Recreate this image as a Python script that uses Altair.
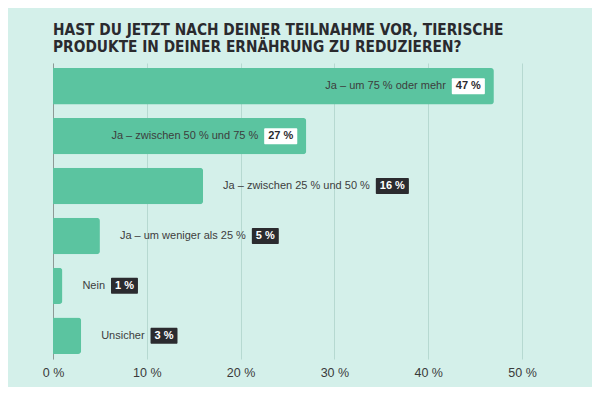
import altair as alt
import pandas as pd

# ---- data ----
categories = [
    "Ja – um 75 % oder mehr",
    "Ja – zwischen 50 % und 75 %",
    "Ja – zwischen 25 % und 50 %",
    "Ja – um weniger als 25 %",
    "Nein",
    "Unsicher",
]
values = [47, 27, 16, 5, 1, 3]
tick_values = [0, 10, 20, 30, 40, 50]
title_lines = [
    "HAST DU JETZT NACH DEINER TEILNAHME VOR, TIERISCHE",
    "PRODUKTE IN DEINER ERNÄHRUNG ZU REDUZIEREN?",
]

# ---- style ----
BG = "#d4f0ea"
BAR = "#5bc4a0"
GRID = "#b6d9d1"
DARK = "#2b2b2f"
LABEL_COLOR = "#3d3d3d"
W, H = 469, 296
XMAX = 50
K = W / XMAX  # pixels per percentage point
LABEL_FS = 11
BADGE_FS = 11
INSIDE_MIN = 20

# approximate Arial / Liberation Sans advance widths (per 1000 em)
REG = {" ": 278, "–": 556, "%": 889, "J": 500, "N": 722, "U": 722,
       "a": 556, "b": 556, "c": 500, "d": 556, "e": 556, "f": 278, "g": 556,
       "h": 556, "i": 222, "j": 222, "k": 500, "l": 222, "m": 833, "n": 556,
       "o": 556, "p": 556, "r": 333, "s": 500, "t": 278, "u": 556, "v": 500,
       "w": 722, "x": 500, "y": 500, "z": 500}
BOLD = {" ": 278, "%": 889}


def text_width(s, fs, table):
    return sum(table.get(c, 556) for c in s) * fs / 1000.0


rows = []
for cat, v in zip(categories, values):
    badge = f"{v} %"
    bw = text_width(badge, BADGE_FS, BOLD) + 8
    tw = text_width(cat, LABEL_FS, REG)
    if v >= INSIDE_MIN:
        be = v - 9 / K
        bs = be - bw / K
        lx = bs - (6 + tw) / K
        fill, tcol = "#ffffff", DARK
    else:
        lx = v + 20 / K
        bs = v + (20 + tw + 6) / K
        be = bs + bw / K
        fill, tcol = DARK, "#ffffff"
    rows.append(dict(category=cat, value=v, badge=badge, label_x=lx,
                     badge_start=bs, badge_end=be, badge_mid=(bs + be) / 2,
                     badge_fill=fill, badge_text=tcol))
df = pd.DataFrame(rows)

yenc = alt.Y(
    "category:N", sort=categories, title=None,
    scale=alt.Scale(paddingInner=0.27, paddingOuter=0.1),
    axis=alt.Axis(labels=False, ticks=False, domain=True, domainColor="#8e9a96",
                  grid=False, title=None),
)
xscale = alt.Scale(domain=[0, XMAX], nice=False)

base = alt.Chart(df).encode(y=yenc)

bars = base.mark_bar(color=BAR, cornerRadiusEnd=3).encode(
    x=alt.X("value:Q", scale=xscale, title=None,
            axis=alt.Axis(values=tick_values, labelExpr="datum.value + ' %'",
                          domain=False, ticks=False, grid=True, gridColor=GRID,
                          labelFontSize=12.5, labelColor="#3a3a3a",
                          labelFont="Liberation Sans", labelPadding=7,
                          labelFlush=False, title=None))
)

labels = base.mark_text(align="left", baseline="middle", fontSize=LABEL_FS,
                        font="Liberation Sans", color=LABEL_COLOR).encode(
    x=alt.X("label_x:Q", scale=xscale, title=None),
    text="category:N",
)

badges = base.mark_bar(cornerRadius=1).encode(
    x=alt.X("badge_start:Q", scale=xscale, title=None),
    x2="badge_end:Q",
    size=alt.value(16),
    color=alt.Color("badge_fill:N", scale=None),
)

badge_text = base.mark_text(align="center", baseline="middle", fontSize=BADGE_FS,
                            font="Liberation Sans", fontWeight="bold").encode(
    x=alt.X("badge_mid:Q", scale=xscale, title=None),
    text="badge:N",
    color=alt.Color("badge_text:N", scale=None),
)

chart = alt.layer(bars, labels, badges, badge_text).properties(
    width=W, height=H,
    background=BG,
    padding={"left": 45, "top": 55, "right": 70, "bottom": 28},
    autosize=alt.AutoSizeParams(type="none"),
    title=alt.TitleParams(
        text=title_lines, anchor="start", frame="group", orient="top",
        font="DejaVu Sans Condensed", fontWeight="bold",
        fontSize=15.3, lineHeight=16.7, color="#2a2a2e", offset=-7,
        baseline="bottom",
    ),
).configure_view(stroke=None)

chart.save("out.html", embed_options={"renderer": "svg", "actions": False})
